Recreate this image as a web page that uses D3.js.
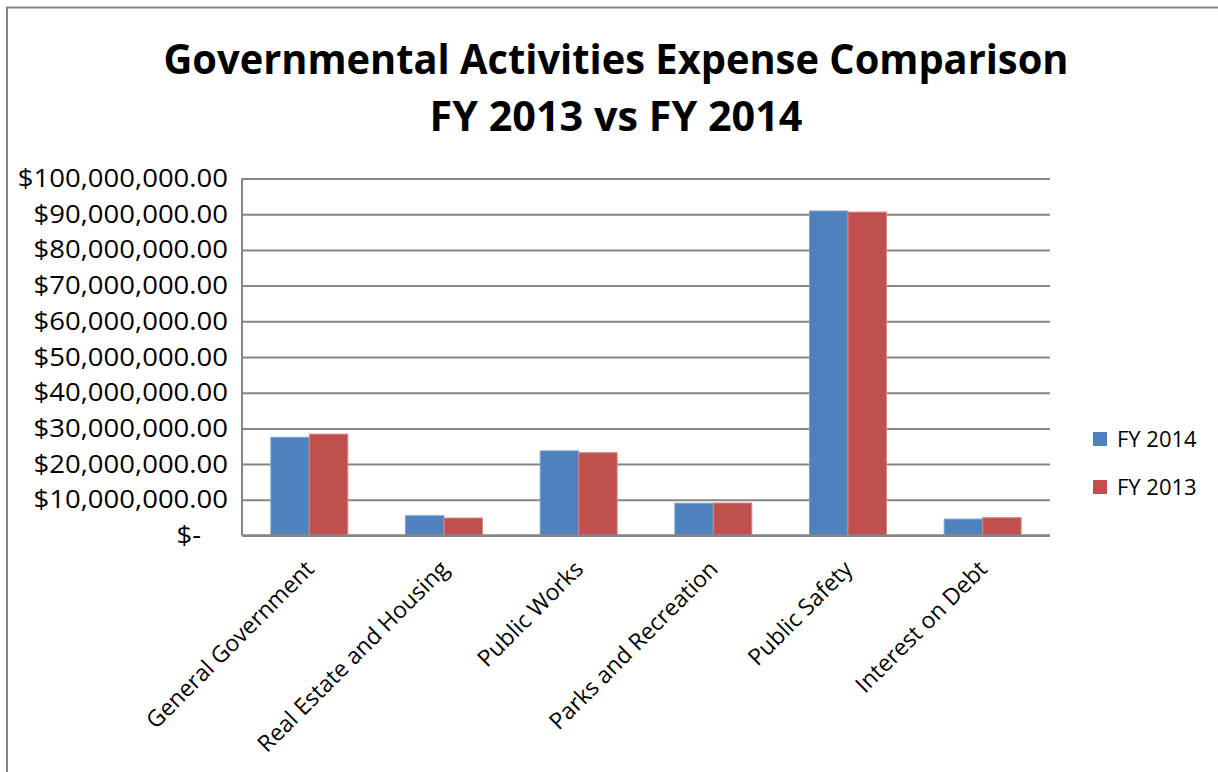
<!DOCTYPE html>
<html>
<head>
<meta charset="utf-8">
<script src="https://cdn.jsdelivr.net/npm/d3@7"></script>
<style>
  body { margin: 0; background: #fff; }
  text { font-family: "Open Sans", sans-serif; fill: #000; }
</style>
</head>
<body>
<div id="chart"></div>
<script>
const categories = ["General Government", "Real Estate and Housing", "Public Works",
  "Parks and Recreation", "Public Safety", "Interest on Debt"]
const seriesNames = ["FY 2014", "FY 2013"]
const fy2014 = [27500000, 5550000, 23700000, 9050000, 90900000, 4600000]
const fy2013 = [28400000, 4900000, 23200000, 9100000, 90600000, 5000000]
const yTicks = [0, 10000000, 20000000, 30000000, 40000000, 50000000,
  60000000, 70000000, 80000000, 90000000, 100000000]
const titleLines = ["Governmental Activities Expense Comparison", "FY 2013 vs FY 2014"]

const colors = ["#4F81BD", "#C0504D"]
const strokes = ["#7EA3CF", "#D58A88"]
const gridColor = "#868686"

const width = 1218
const height = 772
const plot = { left: 242, right: 1050, top: 178.5, bottom: 535.5 }

const rows = categories.map((c, i) => ({ category: c, values: [fy2014[i], fy2013[i]] }))

const svg = d3.select("#chart")
  .append("svg")
  .attr("width", width)
  .attr("height", height)

// outer frame (only top and left edges show in the picture)
svg.append("rect")
  .attr("x", 7)
  .attr("y", 7.5)
  .attr("width", width + 20)
  .attr("height", height + 20)
  .attr("fill", "none")
  .attr("stroke", gridColor)
  .attr("stroke-width", 2)

const x0 = d3.scaleBand()
  .domain(categories)
  .range([plot.left, plot.right])
  .padding(0)

const x1 = d3.scaleBand()
  .domain([0, 1])
  .range([0, x0.bandwidth()])
  .paddingInner(0)
  .paddingOuter(0.75)

const y = d3.scaleLinear()
  .domain([0, 100000000])
  .range([plot.bottom, plot.top])

const money = d3.format(",.2f")
const fmt = (d) => d === 0 ? "$-" : "$" + money(d)

// gridlines
const grid = svg.append("g")
  .attr("transform", `translate(${plot.left},0)`)
  .call(d3.axisLeft(y).tickValues(yTicks).tickSize(-(plot.right - plot.left)).tickFormat(""))
grid.select(".domain").remove()
grid.selectAll("line")
  .attr("stroke", gridColor)
  .attr("stroke-width", 2)

// y axis labels, a touch wider than Open Sans to match the original face
const yAxis = svg.append("g")
  .attr("transform", `translate(${plot.left - 14},0)`)
  .call(d3.axisLeft(y).tickValues(yTicks).tickFormat(fmt).tickSize(0).tickPadding(0))
yAxis.select(".domain").remove()
yAxis.selectAll(".tick text")
  .attr("font-size", 25)
  .attr("font-family", "Open Sans")
  .attr("fill", "#000")
  .attr("x", (d) => d === 0 ? -27 : 0)
  .each(function () {
    const len = this.getComputedTextLength()
    d3.select(this)
      .attr("textLength", len * 1.1)
      .attr("lengthAdjust", "spacingAndGlyphs")
  })

// bars
const groups = svg.append("g")
  .selectAll("g")
  .data(rows)
  .join("g")
  .attr("transform", (d) => `translate(${x0(d.category)},0)`)

groups.selectAll("rect")
  .data((d) => d.values.map((v, i) => ({ i: i, v: v })))
  .join("rect")
  .attr("x", (d) => x1(d.i))
  .attr("y", (d) => y(d.v))
  .attr("width", x1.bandwidth())
  .attr("height", (d) => y(0) - y(d.v))
  .attr("fill", (d) => colors[d.i])
  .attr("stroke", (d) => strokes[d.i])
  .attr("stroke-width", 1)

// axis lines
svg.append("line")
  .attr("x1", plot.left).attr("x2", plot.left)
  .attr("y1", plot.top).attr("y2", plot.bottom)
  .attr("stroke", gridColor).attr("stroke-width", 2)
svg.append("line")
  .attr("x1", plot.left).attr("x2", plot.right)
  .attr("y1", plot.bottom).attr("y2", plot.bottom)
  .attr("stroke", gridColor).attr("stroke-width", 2.5)

// x axis labels
const xAxis = svg.append("g")
  .attr("transform", `translate(0,${plot.bottom})`)
  .call(d3.axisBottom(x0).tickSize(0))
xAxis.select(".domain").remove()
xAxis.selectAll("text")
  .attr("font-size", 23)
  .attr("font-family", "Open Sans")
  .attr("fill", "#000")
  .attr("x", 0)
  .attr("y", 0)
  .attr("dy", 0)
  .attr("text-anchor", "end")
  .attr("transform", "translate(6,35) rotate(-45)")

// title
svg.append("g")
  .selectAll("text")
  .data(titleLines)
  .join("text")
  .attr("x", 616)
  .attr("y", (d, i) => 74 + i * 57)
  .attr("text-anchor", "middle")
  .attr("font-size", 42)
  .attr("font-weight", "bold")
  .attr("textLength", (d, i) => i === 0 ? 905 : 373)
  .attr("lengthAdjust", "spacingAndGlyphs")
  .text((d) => d)

// legend
const legend = svg.append("g")
  .selectAll("g")
  .data(seriesNames)
  .join("g")
  .attr("transform", (d, i) => `translate(1093,${432 + i * 48})`)

legend.append("rect")
  .attr("width", 14)
  .attr("height", 14)
  .attr("fill", (d, i) => colors[i])

legend.append("text")
  .attr("x", 24)
  .attr("y", 7)
  .attr("dy", "0.35em")
  .attr("font-size", 22)
  .text((d) => d)
</script>
</body>
</html>
